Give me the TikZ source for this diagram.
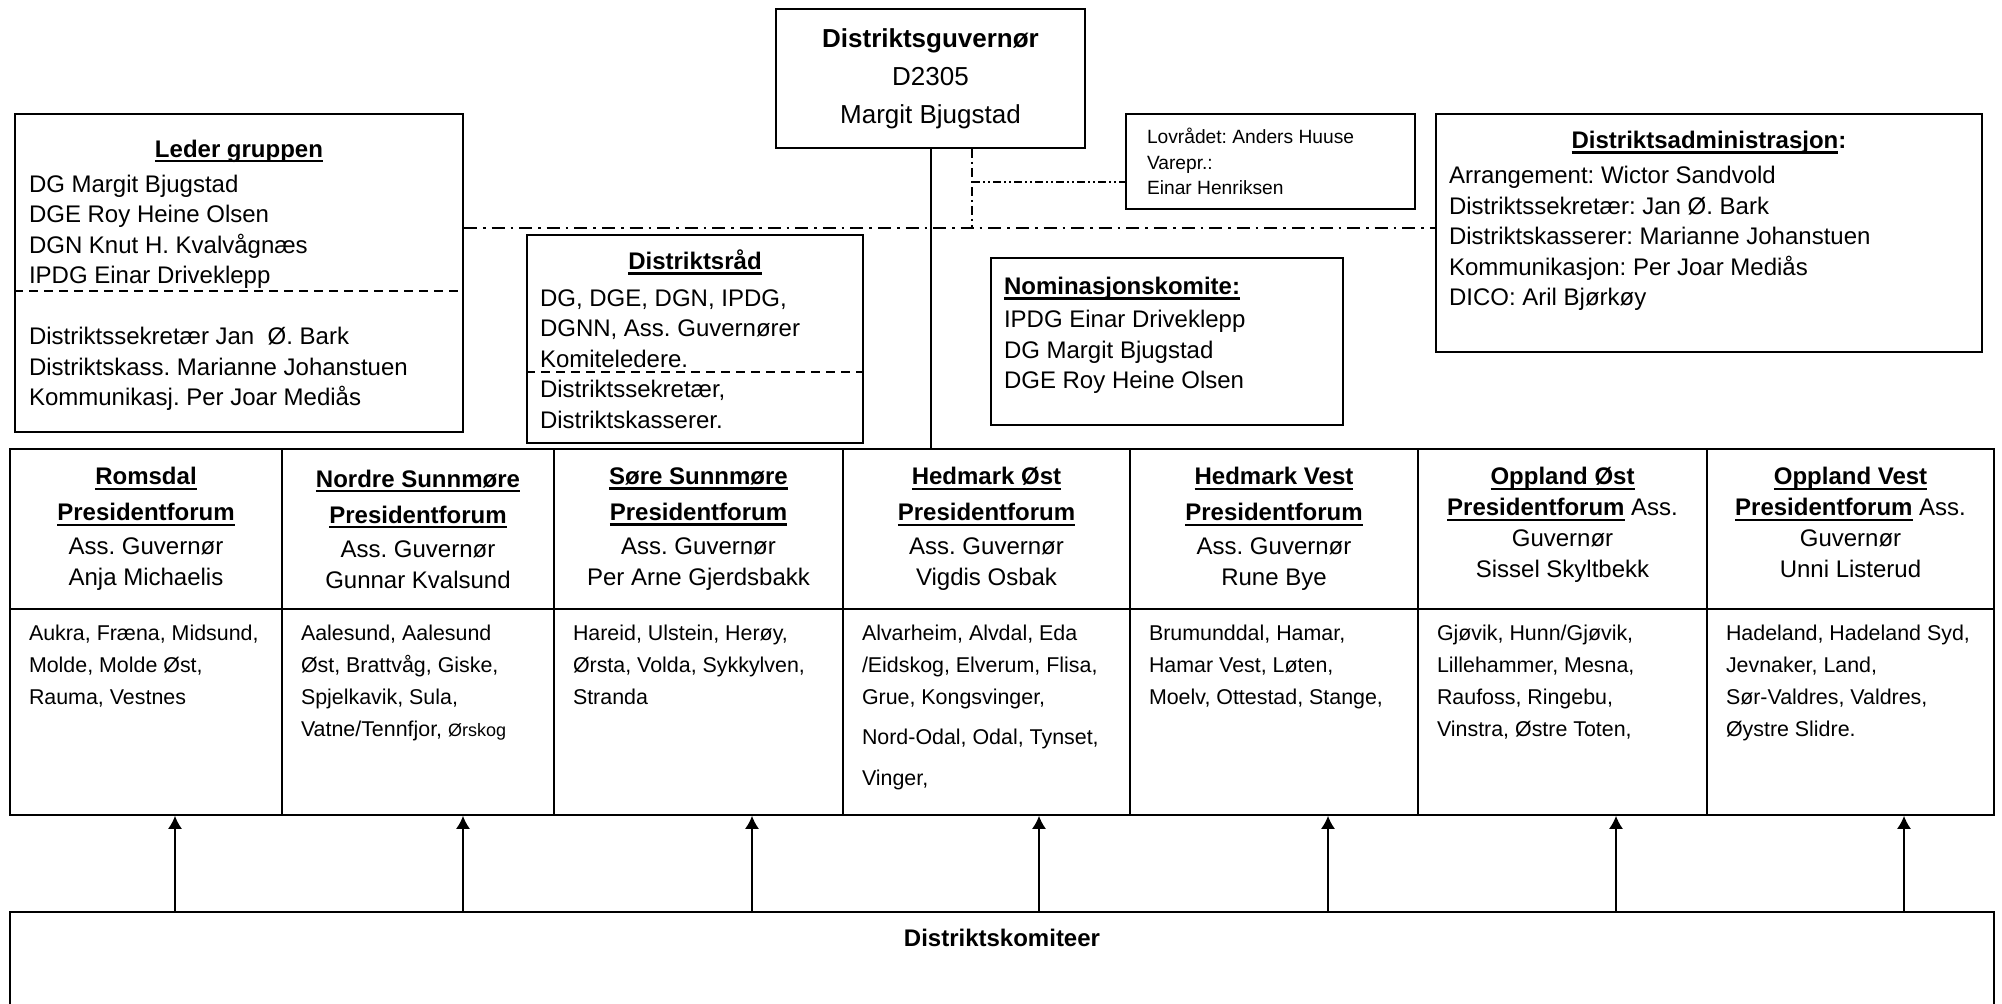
\documentclass[tikz,border=0pt]{standalone}
\usepackage{fontspec}
\setmainfont{Liberation Sans}
\usetikzlibrary{arrows.meta}

\newlength{\strekbredde}
\newcommand{\understrek}[1]{\leavevmode\settowidth{\strekbredde}{#1}\rlap{\rule[-2.6pt]{\strekbredde}{1.2pt}}#1}

\tikzset{
  boks/.style={shape=rectangle, draw=black, line width=0.9pt, inner sep=0pt},
  hode/.style={shape=rectangle, draw=black, line width=0.9pt, minimum height=80pt, align=center, font=\fontsize{12}{15.5}\selectfont},
  kropp/.style={shape=rectangle, draw=black, line width=0.9pt, minimum height=103pt, inner sep=0pt, font=\fontsize{10.7}{16}\selectfont},
  pil/.style={-{Latex[length=6.5pt,width=7pt]}, line width=0.7pt},
  skille/.style={dash pattern=on 4.5pt off 3pt, line width=0.7pt},
  strek/.style={dash pattern=on 6.5pt off 3pt on 1.3pt off 3pt, line width=1.4pt},
  prikk/.style={dash pattern=on 4.5pt off 2pt on 1pt off 2pt, line width=0.7pt},
  prikkprikk/.style={dash pattern=on 4pt off 1.5pt on 1pt off 1.5pt on 1pt off 1.5pt, line width=0.7pt}
}

\begin{document}
\frenchspacing
\begin{tikzpicture}[x=0.5pt, y=-0.5pt]
	\useasboundingbox (0,0) rectangle (2002,1004);

	\node[boks, minimum width=154.5pt, minimum height=69.5pt, align=center, font=\fontsize{13}{19}\selectfont] (dg) at (930.5,78.5) {\textbf{Distriktsguvernør}\\D2305\\Margit Bjugstad};

	\node[boks, minimum width=224pt, minimum height=159pt, font=\fontsize{12}{15.25}\selectfont] (leder) at (239,273) {\parbox{210pt}{\makebox[210pt]{\rule{0pt}{10.8pt}\understrek{\textbf{Leder gruppen}}}\\[2.25pt]DG Margit Bjugstad\\DGE Roy Heine Olsen\\DGN Knut H. Kvalvågnæs\\IPDG Einar Driveklepp\\[15.25pt]Distriktssekretær Jan\ \ Ø. Bark\\Distriktskass. Marianne Johanstuen\\Kommunikasj. Per Joar Mediås}};
	\node[boks, minimum width=144.5pt, minimum height=47.5pt, font=\fontsize{9.6}{12.8}\selectfont] (lov) at (1270.5,161.5) {\parbox{123.5pt}{Lovrådet: Anders Huuse\\Varepr.:\\Einar Henriksen}};
	\node[boks, minimum width=273pt, minimum height=119pt, font=\fontsize{12}{15.25}\selectfont] (adm) at (1709,233) {\parbox[c][101.8pt][t]{260pt}{\makebox[260pt]{\textbf{\understrek{Distriktsadministrasjon}:}}\\[2.25pt]Arrangement: Wictor Sandvold\\Distriktssekretær: Jan Ø. Bark\\Distriktskasserer: Marianne Johanstuen\\Kommunikasjon: Per Joar Mediås\\DICO: Aril Bjørkøy}};
	\node[boks, minimum width=168pt, minimum height=104pt, font=\fontsize{12}{15.25}\selectfont] (rad) at (695,339) {\parbox{155pt}{\makebox[155pt]{\understrek{\textbf{Distriktsråd}}}\\[3pt]DG, DGE, DGN, IPDG,\\DGNN, Ass. Guvernører\\Komiteledere.\\Distriktssekretær,\\Distriktskasserer.}};
	\node[boks, minimum width=176pt, minimum height=83.5pt, font=\fontsize{12}{15.25}\selectfont] (nom) at (1167,341.5) {\parbox[c][64.3pt][t]{163pt}{\understrek{\textbf{Nominasjonskomite:}}\\[1.25pt]IPDG Einar Driveklepp\\DG Margit Bjugstad\\DGE Roy Heine Olsen}};

	\node[hode, minimum width=136pt] (romh) at (146,529) {\understrek{\textbf{Romsdal}}\\[2.5pt]\understrek{\textbf{Presidentforum}}\\[1.5pt]Ass. Guvernør\\Anja Michaelis};
	\node[hode, minimum width=136pt] (nsh) at (418,529) {\understrek{\textbf{Nordre Sunnmøre}}\\[2.5pt]\understrek{\textbf{Presidentforum}}\\[1.5pt]Ass. Guvernør\\Gunnar Kvalsund};
	\node[hode, minimum width=144.5pt] (ssh) at (698.5,529) {\understrek{\textbf{Søre Sunnmøre}}\\[2.5pt]\understrek{\textbf{Presidentforum}}\\[1.5pt]Ass. Guvernør\\Per Arne Gjerdsbakk};
	\node[hode, minimum width=143.5pt] (hoh) at (986.5,529) {\understrek{\textbf{Hedmark Øst}}\\[2.5pt]\understrek{\textbf{Presidentforum}}\\[1.5pt]Ass. Guvernør\\Vigdis Osbak};
	\node[hode, minimum width=144pt] (hvh) at (1274,529) {\understrek{\textbf{Hedmark Vest}}\\[2.5pt]\understrek{\textbf{Presidentforum}}\\[1.5pt]Ass. Guvernør\\Rune Bye};
	\node[hode, minimum width=144.5pt] (ooh) at (1562.5,529) {\understrek{\textbf{Oppland Øst}}\\\understrek{\textbf{Presidentforum}} Ass.\\Guvernør\\Sissel Skyltbekk\rule[-6.4pt]{0pt}{0pt}};
	\node[hode, minimum width=143.5pt] (ovh) at (1850.5,529) {\understrek{\textbf{Oppland Vest}}\\\understrek{\textbf{Presidentforum}} Ass.\\Guvernør\\Unni Listerud\rule[-6.4pt]{0pt}{0pt}};

	\node[kropp, minimum width=136pt] (romb) at (146,712) {\parbox[c][86.7pt][t]{117pt}{Aukra, Fræna, Midsund,\\Molde, Molde Øst,\\Rauma, Vestnes}};
	\node[kropp, minimum width=136pt] (nsb) at (418,712) {\parbox[c][86.7pt][t]{117pt}{Aalesund, Aalesund\\Øst, Brattvåg, Giske,\\Spjelkavik, Sula,\\Vatne/Tennfjor, {\fontsize{9}{16}\selectfont Ørskog}}};
	\node[kropp, minimum width=144.5pt] (ssb) at (698.5,712) {\parbox[c][86.7pt][t]{125.5pt}{Hareid, Ulstein, Herøy,\\Ørsta, Volda, Sykkylven,\\Stranda}};
	\node[kropp, minimum width=143.5pt] (hob) at (986.5,712) {\parbox[c][86.7pt][t]{124.5pt}{Alvarheim, Alvdal, Eda\\/Eidskog, Elverum, Flisa,\\Grue, Kongsvinger,\\[4pt]Nord-Odal, Odal, Tynset,\\[4.5pt]Vinger,}};
	\node[kropp, minimum width=144pt] (hvb) at (1274,712) {\parbox[c][86.7pt][t]{125pt}{Brumunddal, Hamar,\\Hamar Vest, Løten,\\Moelv, Ottestad, Stange,}};
	\node[kropp, minimum width=144.5pt] (oob) at (1562.5,712) {\parbox[c][86.7pt][t]{125.5pt}{Gjøvik, Hunn/Gjøvik,\\Lillehammer, Mesna,\\Raufoss, Ringebu,\\Vinstra, Østre Toten,}};
	\node[kropp, minimum width=143.5pt] (ovb) at (1850.5,712) {\parbox[c][86.7pt][t]{124.5pt}{Hadeland, Hadeland Syd,\\Jevnaker, Land,\\Sør-Valdres, Valdres,\\Øystre Slidre.}};

	\node[boks, minimum width=992pt, minimum height=54pt, font=\fontsize{12}{15}\selectfont] (kom) at (1002,966) {\parbox[c][36.8pt][t]{972pt}{\centering\textbf{Distriktskomiteer}}};

	\coordinate (rl) at (0,228);
	\coordinate (lk) at (972,182);
	\coordinate (ls) at (0,291);
	\coordinate (rs) at (0,372);

	\draw[skille] (leder.west |- ls) -- (leder.east |- ls);
	\draw[skille] (rad.west |- rs) -- (rad.east |- rs);
	\draw[strek] (leder.east |- rl) -- (adm.west |- rl);
	\draw[prikk] (dg.south -| lk) -- (lk |- rl);
	\draw[prikkprikk] (lk) -- (lov.west |- lk);
	\path[-, line width=1pt] (dg.south) edge (dg.south |- hoh.north);

	\coordinate (a1) at (175,912);
	\coordinate (a2) at (463,912);
	\coordinate (a3) at (752,912);
	\coordinate (a4) at (1039,912);
	\coordinate (a5) at (1328,912);
	\coordinate (a6) at (1616,912);
	\coordinate (a7) at (1904,912);

	\path[pil] (a1) edge (a1 |- romb.south);
	\path[pil] (a2) edge (a2 |- nsb.south);
	\path[pil] (a3) edge (a3 |- ssb.south);
	\path[pil] (a4) edge (a4 |- hob.south);
	\path[pil] (a5) edge (a5 |- hvb.south);
	\path[pil] (a6) edge (a6 |- oob.south);
	\path[pil] (a7) edge (a7 |- ovb.south);

\end{tikzpicture}
\end{document}
